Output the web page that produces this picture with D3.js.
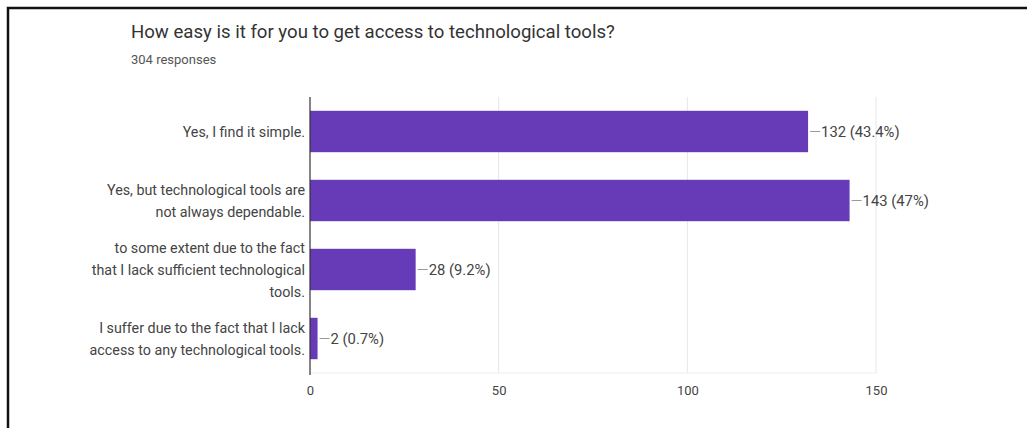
<!DOCTYPE html>
<html>
<head>
<meta charset="utf-8">
<script src="https://cdn.jsdelivr.net/npm/d3@7"></script>
<style>
  html, body { margin: 0; padding: 0; background: #fff; }
  svg { display: block; font-family: Roboto, "Liberation Sans", Arial, sans-serif; }
</style>
</head>
<body>
<svg id="chart" width="1027" height="428"></svg>
<script>
// Survey answers (label lines separated by "\n")
const categories = [
  "Yes, I find it simple.",
  "Yes, but technological tools are\nnot always dependable.",
  "to some extent due to the fact\nthat I lack sufficient technological\ntools.",
  "I suffer due to the fact that I lack\naccess to any technological tools."
];
const counts = [132, 143, 28, 2];
const percents = ["43.4%", "47%", "9.2%", "0.7%"];
const xTicks = [0, 50, 100, 150];
const title = "How easy is it for you to get access to technological tools?";
const subtitle = "304 responses";

const svg = d3.select("#chart");
const barColor = "#673ab7";
const textColor = "#444";

// Frame lines (top and left)
svg.append("path")
  .attr("d", "M8,428 L8,8 L1027,8")
  .attr("fill", "none")
  .attr("stroke", "#111")
  .attr("stroke-width", 2.5);

// Heading
svg.append("text")
  .attr("x", 131).attr("y", 38)
  .attr("font-size", 18.6)
  .attr("fill", "#333")
  .text(title);
svg.append("text")
  .attr("x", 131).attr("y", 64)
  .attr("font-size", 13)
  .attr("fill", "#555")
  .text(subtitle);

const plot = { left: 310, right: 876, top: 97, bottom: 373 };

const x = d3.scaleLinear().domain([0, 150]).range([plot.left, plot.right]);
const y = d3.scaleBand().domain(d3.range(categories.length))
  .range([plot.top, plot.bottom]).paddingInner(0.4).paddingOuter(0.2);

// Vertical gridlines
svg.append("g").selectAll("line")
  .data(xTicks.filter(t => t > 0))
  .join("line")
  .attr("x1", d => x(d)).attr("x2", d => x(d))
  .attr("y1", plot.top).attr("y2", plot.bottom)
  .attr("stroke", "#e6e6e6").attr("stroke-width", 1);

// Faint bottom edge of the plot area
svg.append("line")
  .attr("x1", plot.left).attr("x2", plot.right)
  .attr("y1", plot.bottom).attr("y2", plot.bottom)
  .attr("stroke", "#eeeeee");

// Bottom axis labels
const xAxis = d3.axisBottom(x).tickValues(xTicks).tickSize(0).tickPadding(13);
const gx = svg.append("g").attr("transform", `translate(0,${plot.bottom})`).call(xAxis);
gx.select(".domain").remove();
gx.selectAll("text").attr("font-size", 13).attr("fill", textColor)
  .attr("font-family", "Roboto, 'Liberation Sans', Arial, sans-serif");

// Bars
svg.append("g").selectAll("rect")
  .data(counts)
  .join("rect")
  .attr("x", x(0))
  .attr("y", (d, i) => y(i))
  .attr("width", d => x(d) - x(0))
  .attr("height", y.bandwidth())
  .attr("fill", barColor);

// Left baseline
svg.append("line")
  .attr("x1", plot.left).attr("x2", plot.left)
  .attr("y1", plot.top).attr("y2", plot.bottom + 2)
  .attr("stroke", "#333").attr("stroke-width", 1.2);

// Category labels
const lineH = 22;
const catG = svg.append("g");
categories.forEach((c, i) => {
  const lines = c.split("\n");
  const cy = y(i) + y.bandwidth() / 2;
  const t = catG.append("text")
    .attr("text-anchor", "end")
    .attr("font-size", 14.3)
    .attr("fill", textColor);
  lines.forEach((ln, k) => {
    t.append("tspan")
      .attr("x", plot.left - 5)
      .attr("y", cy + (k - (lines.length - 1) / 2) * lineH + 5)
      .text(ln);
  });
});

// Value labels with leader ticks
const valG = svg.append("g");
counts.forEach((v, i) => {
  const cy = y(i) + y.bandwidth() / 2;
  valG.append("line")
    .attr("x1", x(v) + 2).attr("x2", x(v) + 12)
    .attr("y1", cy).attr("y2", cy)
    .attr("stroke", "#999").attr("stroke-width", 1);
  valG.append("text")
    .attr("x", x(v) + 13).attr("y", cy + 5)
    .attr("font-size", 14.8)
    .attr("fill", textColor)
    .text(`${v} (${percents[i]})`);
});
</script>
</body>
</html>
